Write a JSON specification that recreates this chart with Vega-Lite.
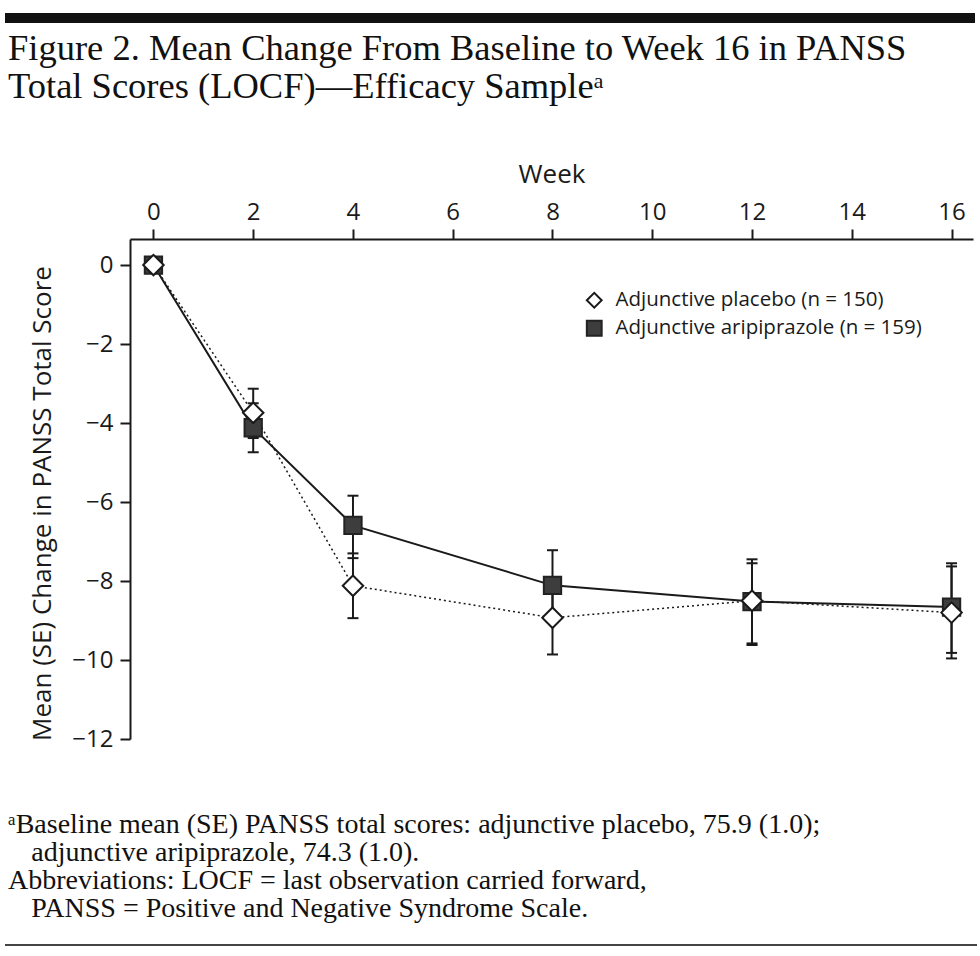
{
  "$schema": "https://vega.github.io/schema/vega-lite/v6.json",
  "background": "white",
  "padding": {"left": 5, "top": 13, "right": 5, "bottom": 5},
  "config": {
    "view": {"stroke": null},
    "font": "Open Sans",
    "title": {"color": "#1a1a1a", "fontWeight": "normal"},
    "legend": {
      "title": null,
      "labelFontSize": 20.5,
      "labelLimit": 0,
      "labelColor": "#1a1a1a",
      "labelFont": "Open Sans",
      "symbolSize": 220,
      "symbolStrokeWidth": 2,
      "rowPadding": 4,
      "labelOffset": 11
    }
  },
  "columns": 1,
  "align": "none",
  "spacing": 55,
  "resolve": {"legend": {"shape": "independent", "fill": "independent", "stroke": "independent"}},
  "concat": [
    {
      "width": 970,
      "height": 10,
      "view": {"fill": "#111111", "stroke": null},
      "data": {"values": []},
      "mark": "point",
      "title": {
        "text": ["Figure 2. Mean Change From Baseline to Week 16 in PANSS", "Total Scores (LOCF)—Efficacy Sampleᵃ"],
        "orient": "bottom",
        "anchor": "start",
        "frame": "group",
        "font": "Liberation Serif",
        "fontSize": 36.5,
        "lineHeight": 38,
        "fontWeight": "normal",
        "color": "#111111",
        "offset": 8,
        "dx": 3
      }
    },
    {
      "columns": 1,
      "align": "none",
      "spacing": 60,
      "resolve": {"legend": {"shape": "independent", "fill": "independent", "stroke": "independent"}},
      "concat": [
        {
          "spacing": 23,
          "resolve": {"legend": {"shape": "independent", "fill": "independent", "stroke": "independent"}},
          "hconcat": [
            {
              "width": 1,
              "height": 500,
              "data": {"values": []},
              "mark": "point"
            },
            {
              "width": 843,
              "height": 500,
              "data": {
                "values": [
                  {"week": 0, "group": "Adjunctive aripiprazole (n = 159)", "mean": 0, "lo": 0, "hi": 0},
                  {"week": 2, "group": "Adjunctive aripiprazole (n = 159)", "mean": -4.12, "lo": -4.74, "hi": -3.5},
                  {"week": 4, "group": "Adjunctive aripiprazole (n = 159)", "mean": -6.59, "lo": -7.42, "hi": -5.84},
                  {"week": 8, "group": "Adjunctive aripiprazole (n = 159)", "mean": -8.11, "lo": -9.0, "hi": -7.22},
                  {"week": 12, "group": "Adjunctive aripiprazole (n = 159)", "mean": -8.52, "lo": -9.62, "hi": -7.55},
                  {"week": 16, "group": "Adjunctive aripiprazole (n = 159)", "mean": -8.66, "lo": -9.82, "hi": -7.55},
                  {"week": 0, "group": "Adjunctive placebo (n = 150)", "mean": 0, "lo": 0, "hi": 0},
                  {"week": 2, "group": "Adjunctive placebo (n = 150)", "mean": -3.74, "lo": -4.38, "hi": -3.13},
                  {"week": 4, "group": "Adjunctive placebo (n = 150)", "mean": -8.12, "lo": -8.94, "hi": -7.3},
                  {"week": 8, "group": "Adjunctive placebo (n = 150)", "mean": -8.93, "lo": -9.86, "hi": -8.02},
                  {"week": 12, "group": "Adjunctive placebo (n = 150)", "mean": -8.5, "lo": -9.58, "hi": -7.45},
                  {"week": 16, "group": "Adjunctive placebo (n = 150)", "mean": -8.8, "lo": -9.96, "hi": -7.63}
                ]
              },
              "encoding": {
                "x": {
                  "field": "week",
                  "type": "quantitative",
                  "scale": {"domain": [-0.47, 16.43], "nice": false, "zero": false},
                  "axis": {
                    "orient": "top",
                    "values": [0, 2, 4, 6, 8, 10, 12, 14, 16],
                    "title": "Week",
                    "grid": false,
                    "domainColor": "#1a1a1a",
                    "domainWidth": 2,
                    "tickColor": "#1a1a1a",
                    "tickWidth": 2,
                    "tickSize": 10,
                    "labelFontSize": 24,
                    "labelColor": "#1a1a1a",
                    "labelPadding": 5,
                    "labelFlush": false,
                    "titleFontSize": 26,
                    "titleFontWeight": "normal",
                    "titleColor": "#1a1a1a",
                    "titlePadding": 13
                  }
                }
              },
              "layer": [
                {
                  "transform": [{"filter": "datum.group === 'Adjunctive aripiprazole (n = 159)'"}],
                  "mark": {"type": "line", "color": "#1a1a1a", "strokeWidth": 2},
                  "encoding": {
                    "y": {
                      "field": "mean",
                      "type": "quantitative",
                      "title": "Mean (SE) Change in PANSS Total Score",
                      "scale": {"domain": [-12, 0.66], "nice": false, "zero": false},
                      "axis": {
                        "values": [0, -2, -4, -6, -8, -10, -12],
                        "grid": false,
                        "domainColor": "#1a1a1a",
                        "domainWidth": 2,
                        "tickColor": "#1a1a1a",
                        "tickWidth": 2,
                        "tickSize": 10,
                        "labelFontSize": 24,
                        "labelColor": "#1a1a1a",
                        "labelPadding": 7,
                        "titleFontSize": 26,
                        "titleFontWeight": "normal",
                        "titleColor": "#1a1a1a",
                        "titlePadding": 16,
                        "titleY": 264
                      }
                    }
                  }
                },
                {
                  "transform": [{"filter": "datum.group === 'Adjunctive placebo (n = 150)'"}],
                  "mark": {"type": "line", "color": "#1a1a1a", "strokeWidth": 1.5, "strokeDash": [2, 3]},
                  "encoding": {
                    "y": {"field": "mean", "type": "quantitative", "title": "Mean (SE) Change in PANSS Total Score"}
                  }
                },
                {
                  "transform": [{"filter": "datum.week > 0"}],
                  "mark": {"type": "rule", "color": "#1a1a1a", "strokeWidth": 2},
                  "encoding": {
                    "y": {"field": "lo", "type": "quantitative", "title": "Mean (SE) Change in PANSS Total Score"},
                    "y2": {"field": "hi"}
                  }
                },
                {
                  "transform": [{"filter": "datum.week > 0"}],
                  "mark": {"type": "tick", "orient": "horizontal", "color": "#1a1a1a", "size": 11, "thickness": 2, "opacity": 1},
                  "encoding": {
                    "y": {"field": "lo", "type": "quantitative", "title": "Mean (SE) Change in PANSS Total Score"}
                  }
                },
                {
                  "transform": [{"filter": "datum.week > 0"}],
                  "mark": {"type": "tick", "orient": "horizontal", "color": "#1a1a1a", "size": 11, "thickness": 2, "opacity": 1},
                  "encoding": {
                    "y": {"field": "hi", "type": "quantitative", "title": "Mean (SE) Change in PANSS Total Score"}
                  }
                },
                {
                  "transform": [{"filter": "datum.group === 'Adjunctive aripiprazole (n = 159)'"}],
                  "mark": {"type": "point", "filled": true, "strokeWidth": 2, "opacity": 1, "size": 300},
                  "encoding": {
                    "y": {"field": "mean", "type": "quantitative", "title": "Mean (SE) Change in PANSS Total Score"},
                    "shape": {
                      "field": "group",
                      "type": "nominal",
                      "scale": {"domain": ["Adjunctive placebo (n = 150)", "Adjunctive aripiprazole (n = 159)"], "range": ["diamond", "square"]},
                      "legend": {"title": null, "orient": "none", "legendX": 454, "legendY": 51}
                    },
                    "fill": {
                      "field": "group",
                      "type": "nominal",
                      "scale": {"domain": ["Adjunctive placebo (n = 150)", "Adjunctive aripiprazole (n = 159)"], "range": ["#ffffff", "#3d3d3d"]},
                      "legend": {"title": null, "orient": "none", "legendX": 454, "legendY": 51}
                    },
                    "stroke": {
                      "field": "group",
                      "type": "nominal",
                      "scale": {"domain": ["Adjunctive placebo (n = 150)", "Adjunctive aripiprazole (n = 159)"], "range": ["#1a1a1a", "#222222"]},
                      "legend": {"title": null, "orient": "none", "legendX": 454, "legendY": 51}
                    }
                  }
                },
                {
                  "transform": [{"filter": "datum.group === 'Adjunctive placebo (n = 150)'"}],
                  "mark": {"type": "point", "filled": true, "strokeWidth": 2, "opacity": 1, "size": 420},
                  "encoding": {
                    "y": {"field": "mean", "type": "quantitative", "title": "Mean (SE) Change in PANSS Total Score"},
                    "shape": {"field": "group", "type": "nominal"},
                    "fill": {"field": "group", "type": "nominal"},
                    "stroke": {"field": "group", "type": "nominal"}
                  }
                }
              ]
            }
          ]
        },
        {
          "width": 972,
          "height": 2,
          "view": {"fill": "#444444", "stroke": null},
          "data": {"values": []},
          "mark": "point",
          "title": {
            "text": [
              "ᵃBaseline mean (SE) PANSS total scores: adjunctive placebo, 75.9 (1.0);",
              "\u200b\u2002\u2004adjunctive aripiprazole, 74.3 (1.0).",
              "Abbreviations: LOCF = last observation carried forward,",
              "\u200b\u2002\u2004PANSS = Positive and Negative Syndrome Scale."
            ],
            "orient": "top",
            "anchor": "start",
            "frame": "group",
            "font": "Liberation Serif",
            "fontSize": 28,
            "lineHeight": 28,
            "fontWeight": "normal",
            "color": "#111111",
            "offset": 21,
            "dx": 3
          }
        }
      ]
    }
  ]
}
